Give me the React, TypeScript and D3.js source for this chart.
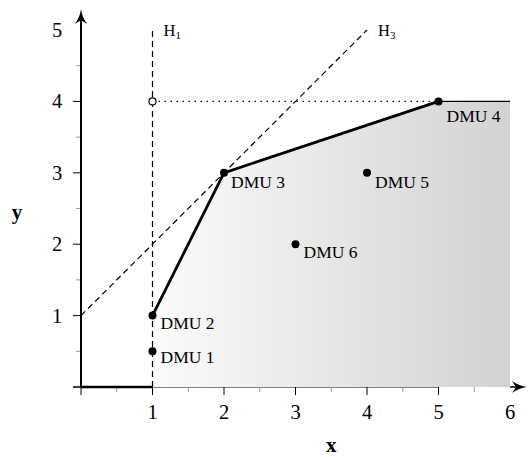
import React from "react";
import * as d3 from "d3";

const xTicks = [0, 1, 2, 3, 4, 5, 6];
const xTickLabels = ["", "1", "2", "3", "4", "5", "6"];
const yTicks = [0, 1, 2, 3, 4, 5];
const yTickLabels = ["", "1", "2", "3", "4", "5"];
const minorX = [0.5, 1.5, 2.5, 3.5, 4.5, 5.5];
const minorY = [0.5, 1.5, 2.5, 3.5, 4.5];

const dmuNames = ["DMU 1", "DMU 2", "DMU 3", "DMU 4", "DMU 5", "DMU 6"];
const dmuX = [1, 1, 2, 5, 4, 3];
const dmuY = [0.5, 1, 3, 4, 3, 2];

const frontierX = [1, 2, 5];
const frontierY = [1, 3, 4];
const regionX = [1, 1, 2, 5, 6, 6];
const regionY = [0, 1, 3, 4, 4, 0];

const h3X = [0, 4];
const h3Y = [1, 5];

const W = 531;
const H = 457;
const FONT = "'Liberation Serif', 'DejaVu Serif', serif";

export default function App() {
  const x = d3.scaleLinear().domain([0, 6]).range([81, 510]);
  const y = d3.scaleLinear().domain([0, 5]).range([387, 30]);
  const line = d3
    .line<[number, number]>()
    .x((d) => x(d[0]))
    .y((d) => y(d[1]));

  const region = regionX.map((v, i) => [v, regionY[i]] as [number, number]);
  const frontier = frontierX.map((v, i) => [v, frontierY[i]] as [number, number]);
  const h3 = h3X.map((v, i) => [v, h3Y[i]] as [number, number]);

  const labelOffsets: [number, number][] = [
    [8, 12],
    [8, 13],
    [7, 15],
    [8, 21],
    [8, 15],
    [8, 14],
  ];

  const x0 = x(0);
  const y0 = y(0);

  return (
    <svg
      width={W}
      height={H}
      style={{ position: "absolute", left: 0, top: 0, background: "#fff" }}
      fontFamily={FONT}
    >
      <defs>
        <linearGradient
          id="fillGrad"
          gradientUnits="userSpaceOnUse"
          x1={x(1)}
          x2={x(6)}
          y1={0}
          y2={0}
        >
          <stop offset="0%" stopColor="#fbfbfb" />
          <stop offset="100%" stopColor="#d2d2d2" />
        </linearGradient>
      </defs>

      {/* x axis line (visible part) */}
      <line x1={x0 - 8} x2={x(5)} y1={y0} y2={y0} stroke="#000" strokeWidth={1} />

      {/* shaded region */}
      <path d={line(region) + "Z"} fill="url(#fillGrad)" stroke="none" />

      {/* minor ticks */}
      {minorX.map((v) => (
        <line key={"mx" + v} x1={x(v)} x2={x(v)} y1={y0} y2={y0 + 5} stroke="#999" strokeWidth={1} />
      ))}
      {minorY.map((v) => (
        <line key={"my" + v} x1={x0 - 5} x2={x0} y1={y(v)} y2={y(v)} stroke="#999" strokeWidth={1} />
      ))}
      {/* major ticks */}
      {xTicks
        .filter((v) => v < 6)
        .map((v) => (
          <line key={"tx" + v} x1={x(v)} x2={x(v)} y1={y0} y2={y0 + 8} stroke="#000" strokeWidth={1} />
        ))}
      {yTicks
        .filter((v) => v < 5)
        .map((v) => (
          <line key={"ty" + v} x1={x0 - 8} x2={x0} y1={y(v)} y2={y(v)} stroke="#000" strokeWidth={1} />
        ))}

      {/* tick labels */}
      {xTicks.map((v, i) => (
        <text key={"lx" + v} x={x(v)} y={y0 + 32} fontSize={20.5} textAnchor="middle" fill="#000">
          {xTickLabels[i]}
        </text>
      ))}
      {yTicks.map((v, i) => (
        <text key={"ly" + v} x={x0 - 24} y={y(v) + 7} fontSize={20.5} textAnchor="middle" fill="#000">
          {yTickLabels[i]}
        </text>
      ))}

      {/* y axis */}
      <line x1={x0} x2={x0} y1={y0} y2={14} stroke="#000" strokeWidth={2} />
      <path
        d={`M${x0},9 Q${x0 + 1},17 ${x0 + 6},24 Q${x0},20 ${x0},20 Q${x0},20 ${x0 - 6},24 Q${x0 - 1},17 ${x0},9 Z`}
        fill="#000"
      />
      {/* x axis arrow */}
      <line x1={x(6)} x2={W - 10} y1={y0} y2={y0} stroke="#000" strokeWidth={1.5} />
      <path
        d={`M${W - 4},${y0} Q${W - 12},${y0 - 1} ${W - 19},${y0 - 6} Q${W - 15},${y0} ${W - 15},${y0} Q${W - 15},${y0} ${W - 19},${y0 + 6} Q${W - 12},${y0 + 1} ${W - 4},${y0} Z`}
        fill="#000"
      />

      {/* H1 dashed */}
      <line
        x1={x(1)}
        x2={x(1)}
        y1={y(0)}
        y2={y(5)}
        stroke="#000"
        strokeWidth={1.2}
        strokeDasharray="6,4"
      />
      {/* H3 dashed */}
      <path d={line(h3) ?? ""} fill="none" stroke="#000" strokeWidth={1.2} strokeDasharray="6,4" />
      {/* dotted */}
      <line
        x1={x(1)}
        x2={x(5)}
        y1={y(4)}
        y2={y(4)}
        stroke="#000"
        strokeWidth={1.2}
        strokeDasharray="1.5,4.5"
      />

      {/* frontier */}
      <line x1={x(0)} x2={x(1)} y1={y0} y2={y0} stroke="#000" strokeWidth={2.6} />
      <path d={line(frontier) ?? ""} fill="none" stroke="#000" strokeWidth={2.8} strokeLinejoin="round" />
      <line x1={x(5)} x2={x(6)} y1={y(4)} y2={y(4)} stroke="#000" strokeWidth={1.2} />

      {/* open circle */}
      <circle cx={x(1)} cy={y(4)} r={3.5} fill="#fff" stroke="#000" strokeWidth={1.2} />

      {/* DMU points */}
      {dmuNames.map((n, i) => (
        <g key={n}>
          <circle cx={x(dmuX[i])} cy={y(dmuY[i])} r={4} fill="#000" />
          <text
            x={x(dmuX[i]) + labelOffsets[i][0]}
            y={y(dmuY[i]) + labelOffsets[i][1]}
            fontSize={17.5}
            fill="#000"
          >
            {n}
          </text>
        </g>
      ))}

      {/* H labels */}
      <text x={x(1) + 11} y={y(5) + 6} fontSize={16.5} fill="#000">
        H<tspan fontSize={11} dy={3}>1</tspan>
      </text>
      <text x={x(4) + 11} y={y(5) + 6} fontSize={16.5} fill="#000">
        H<tspan fontSize={11} dy={3}>3</tspan>
      </text>

      {/* axis labels */}
      <text x={x(3.5)} y={452} fontSize={21} fontWeight="bold" textAnchor="middle" fill="#000">
        x
      </text>
      <text x={17} y={219} fontSize={21} fontWeight="bold" textAnchor="middle" fill="#000">
        y
      </text>
    </svg>
  );
}
